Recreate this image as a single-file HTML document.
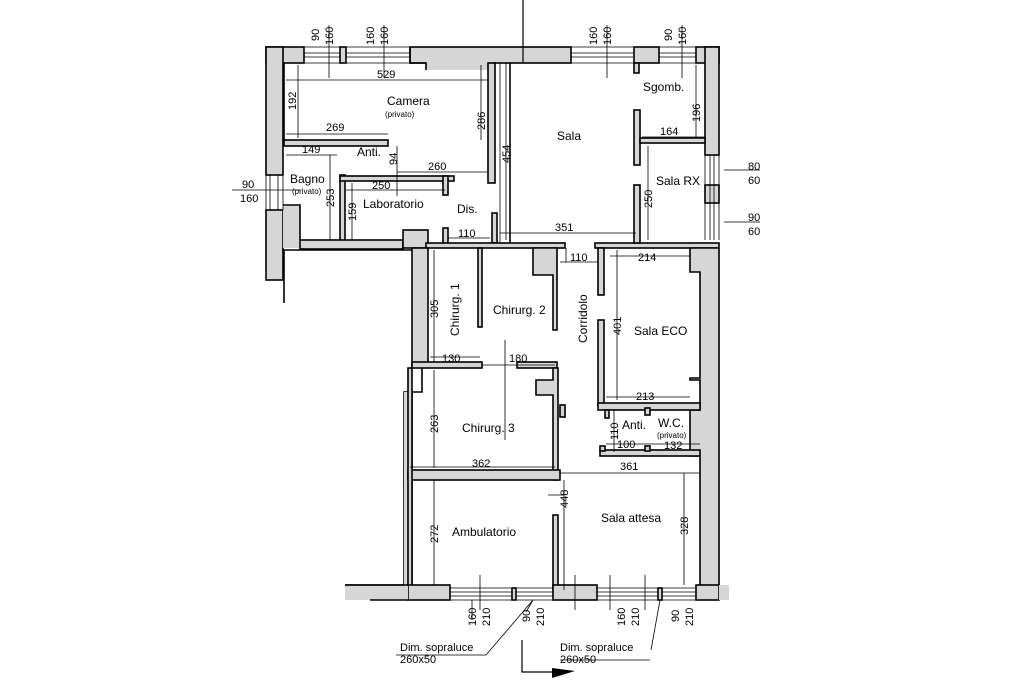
<!DOCTYPE html>
<html><head><meta charset="utf-8"><style>
html,body{margin:0;padding:0;background:#fff;}
svg{display:block;font-family:"Liberation Sans",Arial,sans-serif;}
.w{fill:#d6d6d6;stroke:#000;stroke-width:1.6;}
.l{stroke:#000;stroke-width:1.6;fill:none;}
.d{stroke:#000;stroke-width:0.8;fill:none;}
.t{font-size:11px;fill:#000;}
.s{font-size:8px;fill:#000;}
.r{font-size:12px;fill:#000;}
</style></head><body>
<svg width="1024" height="682" viewBox="0 0 1024 682" xmlns="http://www.w3.org/2000/svg">
<!-- top outer wall -->
<rect class="w" x="266" y="47" width="38" height="16"/>
<rect class="w" x="410" y="47" width="161" height="16"/>
<rect class="w" x="426" y="60" width="67" height="10" style="stroke:none"/>
<path class="l" d="M410 47 V63 H426 V70 M493 70 V63"/>
<rect class="w" x="634" y="47" width="25" height="16"/>
<rect class="w" x="696" y="47" width="23" height="16"/>
<rect class="w" x="340" y="47" width="6" height="16"/>
<!-- windows top -->
<path class="d" d="M304 47H340M304 53H340M304 57H340M304 63H340M346 47H410M346 53H410M346 57H410M346 63H410M571 47H634M571 53H634M571 57H634M571 63H634M659 47H696M659 53H696M659 57H696M659 63H696"/>
<!-- right outer wall upper -->
<rect class="w" x="705" y="47" width="14" height="108"/>
<rect class="w" x="705" y="185" width="14" height="18"/>
<path class="d" d="M705 155V240M710 155V240M714 155V240M719 155V240"/>
<!-- left outer wall upper -->
<rect class="w" x="266" y="47" width="17" height="128"/>
<rect class="w" x="266" y="210" width="17" height="70"/>
<rect class="w" x="283" y="205" width="17" height="43" style="stroke:none"/>
<path class="l" d="M283 205H300V240"/>
<path class="d" d="M266 175V210M270 175V210M278 175V210M283 175V210"/>
<!-- camera walls -->
<path class="l" d="M284 63V140"/>
<rect class="w" x="284" y="140" width="104" height="6"/>
<rect class="w" x="488" y="63" width="7" height="120"/>
<path class="l" d="M510 63V243"/>
<path class="d" d="M500 63V243"/>
<!-- bathroom / lab -->
<rect class="w" x="340" y="175" width="5" height="66"/>
<rect class="w" x="340" y="176" width="114" height="5"/>
<rect class="w" x="443" y="176" width="5" height="19"/>
<rect class="w" x="300" y="240" width="103" height="9"/>
<rect class="w" x="403" y="230" width="25" height="18"/>
<rect class="w" x="443" y="228" width="5" height="17"/>
<rect class="w" x="492" y="213" width="5" height="30"/>
<!-- middle horizontal wall -->
<rect class="w" x="426" y="243" width="139" height="5"/>
<rect class="w" x="595" y="243" width="124" height="5"/>
<!-- sala / sgomb / rx -->
<rect class="w" x="634" y="110" width="6" height="55"/>
<rect class="w" x="634" y="185" width="6" height="58"/>
<rect class="w" x="640" y="138" width="65" height="5"/>
<rect class="w" x="634" y="63" width="5" height="10"/>
<!-- left lower block outline -->
<path class="l" d="M284 250V303M282 250H422V392H404V585H345"/>
<rect class="w" x="404" y="392" width="8" height="196" style="stroke:none"/>
<path class="l" d="M412 392V588"/>
<!-- chirurg walls -->
<rect class="w" x="412" y="248" width="16" height="118"/>
<rect class="w" x="478" y="248" width="4" height="79"/>
<path class="w" d="M533 248H557V330H553V275H533Z"/>
<rect class="w" x="412" y="362" width="70" height="6"/>
<rect class="w" x="517" y="362" width="40" height="6"/>
<path class="w" d="M553 368H558V480H553V395H536V380H553Z"/>
<rect class="w" x="408" y="470" width="152" height="10"/>
<rect class="w" x="408" y="368" width="4" height="220"/>
<rect class="w" x="553" y="515" width="5" height="75"/>
<rect class="w" x="560" y="405" width="5" height="12"/>
<!-- sala eco -->
<rect class="w" x="598" y="248" width="6" height="47"/>
<rect class="w" x="598" y="320" width="6" height="85"/>
<path class="w" d="M690 248H719V590H700V456H690V410H700V380H690V378H700V272H690Z"/>
<rect class="w" x="598" y="403" width="102" height="7"/>
<rect class="w" x="645" y="408" width="5" height="7"/>
<rect class="w" x="600" y="450" width="100" height="6"/>
<rect class="w" x="600" y="446" width="5" height="5"/>
<rect class="w" x="645" y="446" width="5" height="5"/>
<rect class="w" x="605" y="410" width="4" height="8"/>
<!-- bottom wall -->
<rect class="w" x="408" y="585" width="42" height="15"/>
<rect class="w" x="553" y="585" width="44" height="15"/>
<rect class="w" x="696" y="585" width="23" height="15"/>
<rect class="w" x="345" y="586" width="63" height="14" style="stroke:none"/>
<path class="l" d="M345 585H408M370 600H408"/>
<rect x="719" y="585" width="10" height="15" fill="#d6d6d6"/>
<path class="d" d="M450 588H553M450 592H553M450 596H553M450 600H553M597 588H696M597 592H696M597 596H696M597 600H696"/>
<rect class="w" x="512" y="588" width="4" height="12"/>
<rect class="w" x="658" y="588" width="4" height="12"/>
<!-- dimension lines -->
<g class="d">
<path d="M286 80H488M298 65V138M481 65V140M286 134H388M286 155H337M330 155V240M397 146V196M397 172H488M346 190H445M352 183V240M448 238H490M506 63V240M500 233H636M696 65V138M642 137H705M648 146V240"/>
<path d="M566 248V262M560 262H598M610 256H690M434 250V362M617 250V400M430 357H480M482 365H555M505 340V440M434 370V468M606 397H690M614 410V452M606 444H700M410 467H555M560 473H700M564 480V590M434 480V585M684 473V585M564 495H548"/>
<path d="M480 575V610M610 575V610M575 575V610M645 575V610M533 600L526 612M472 620V600M660 600L651 650M560 660H650M396 655H486L533 600"/>
<path d="M329 25V78M384 25V78M607 25V78M682 25V78"/>
<path d="M232 190H300M724 170H760M724 222H760"/>
</g>
<path class="l" d="M523 0V62M522 640V672H560" style="stroke-width:1.2"/>
<path d="M552 668L575 671L552 678Z" fill="#000"/>
<!-- room labels -->
<text class="r" x="387" y="105">Camera</text>
<text class="s" x="385" y="117">(privato)</text>
<text class="r" x="557" y="140">Sala</text>
<text class="r" x="643" y="91">Sgomb.</text>
<text class="r" x="656" y="185">Sala RX</text>
<text class="r" x="290" y="183">Bagno</text>
<text class="s" x="292" y="194">(privato)</text>
<text class="r" x="363" y="208">Laboratorio</text>
<text class="r" x="457" y="213">Dis.</text>
<text class="r" x="357" y="156">Anti.</text>
<text class="r" x="493" y="314">Chirurg. 2</text>
<text class="r" x="634" y="335">Sala ECO</text>
<text class="r" x="462" y="432">Chirurg. 3</text>
<text class="r" x="622" y="429">Anti.</text>
<text class="r" x="658" y="427">W.C.</text>
<text class="s" x="657" y="438">(privato)</text>
<text class="r" x="452" y="536">Ambulatorio</text>
<text class="r" x="601" y="522">Sala attesa</text>
<text class="r" transform="translate(459,336) rotate(-90)">Chirurg. 1</text>
<text class="r" transform="translate(587,343) rotate(-90)">Corridolo</text>
<!-- dims -->
<g class="t">
<text x="377" y="78">529</text><text x="326" y="131">269</text><text x="302" y="153">149</text>
<text x="428" y="170">260</text><text x="372" y="189">250</text><text x="458" y="237">110</text>
<text x="555" y="231">351</text><text x="660" y="135">164</text><text x="570" y="261">110</text>
<text x="638" y="261">214</text><text x="442" y="362">130</text><text x="509" y="362">180</text>
<text x="636" y="400">213</text><text x="617" y="448">100</text><text x="664" y="449">132</text>
<text x="472" y="467">362</text><text x="620" y="470">361</text>
<text x="748" y="170">80</text><text x="748" y="184">60</text><text x="748" y="221">90</text><text x="748" y="235">60</text>
<text x="242" y="188">90</text><text x="240" y="202">160</text>
<text x="400" y="651">Dim. sopraluce</text><text x="400" y="663">260x50</text>
<text x="560" y="651">Dim. sopraluce</text><text x="560" y="663">260x50</text>
</g>
<g class="t">
<text transform="translate(296,110) rotate(-90)">192</text>
<text transform="translate(485,130) rotate(-90)">286</text>
<text transform="translate(397,165) rotate(-90)">94</text>
<text transform="translate(334,207) rotate(-90)">253</text>
<text transform="translate(356,221) rotate(-90)">159</text>
<text transform="translate(510,163) rotate(-90)">454</text>
<text transform="translate(700,122) rotate(-90)">196</text>
<text transform="translate(652,208) rotate(-90)">250</text>
<text transform="translate(438,318) rotate(-90)">305</text>
<text transform="translate(621,335) rotate(-90)">401</text>
<text transform="translate(438,433) rotate(-90)">263</text>
<text transform="translate(618,440) rotate(-90)">110</text>
<text transform="translate(568,508) rotate(-90)">448</text>
<text transform="translate(438,543) rotate(-90)">272</text>
<text transform="translate(688,535) rotate(-90)">328</text>
<text transform="translate(319,41) rotate(-90)">90</text>
<text transform="translate(333,45) rotate(-90)">160</text>
<text transform="translate(374,45) rotate(-90)">160</text>
<text transform="translate(388,45) rotate(-90)">160</text>
<text transform="translate(597,45) rotate(-90)">160</text>
<text transform="translate(611,45) rotate(-90)">160</text>
<text transform="translate(672,41) rotate(-90)">90</text>
<text transform="translate(686,45) rotate(-90)">160</text>
<text transform="translate(476,626) rotate(-90)">160</text>
<text transform="translate(490,626) rotate(-90)">210</text>
<text transform="translate(530,622) rotate(-90)">90</text>
<text transform="translate(544,626) rotate(-90)">210</text>
<text transform="translate(625,626) rotate(-90)">160</text>
<text transform="translate(639,626) rotate(-90)">210</text>
<text transform="translate(679,622) rotate(-90)">90</text>
<text transform="translate(693,626) rotate(-90)">210</text>
</g>
</svg>
</body></html>
